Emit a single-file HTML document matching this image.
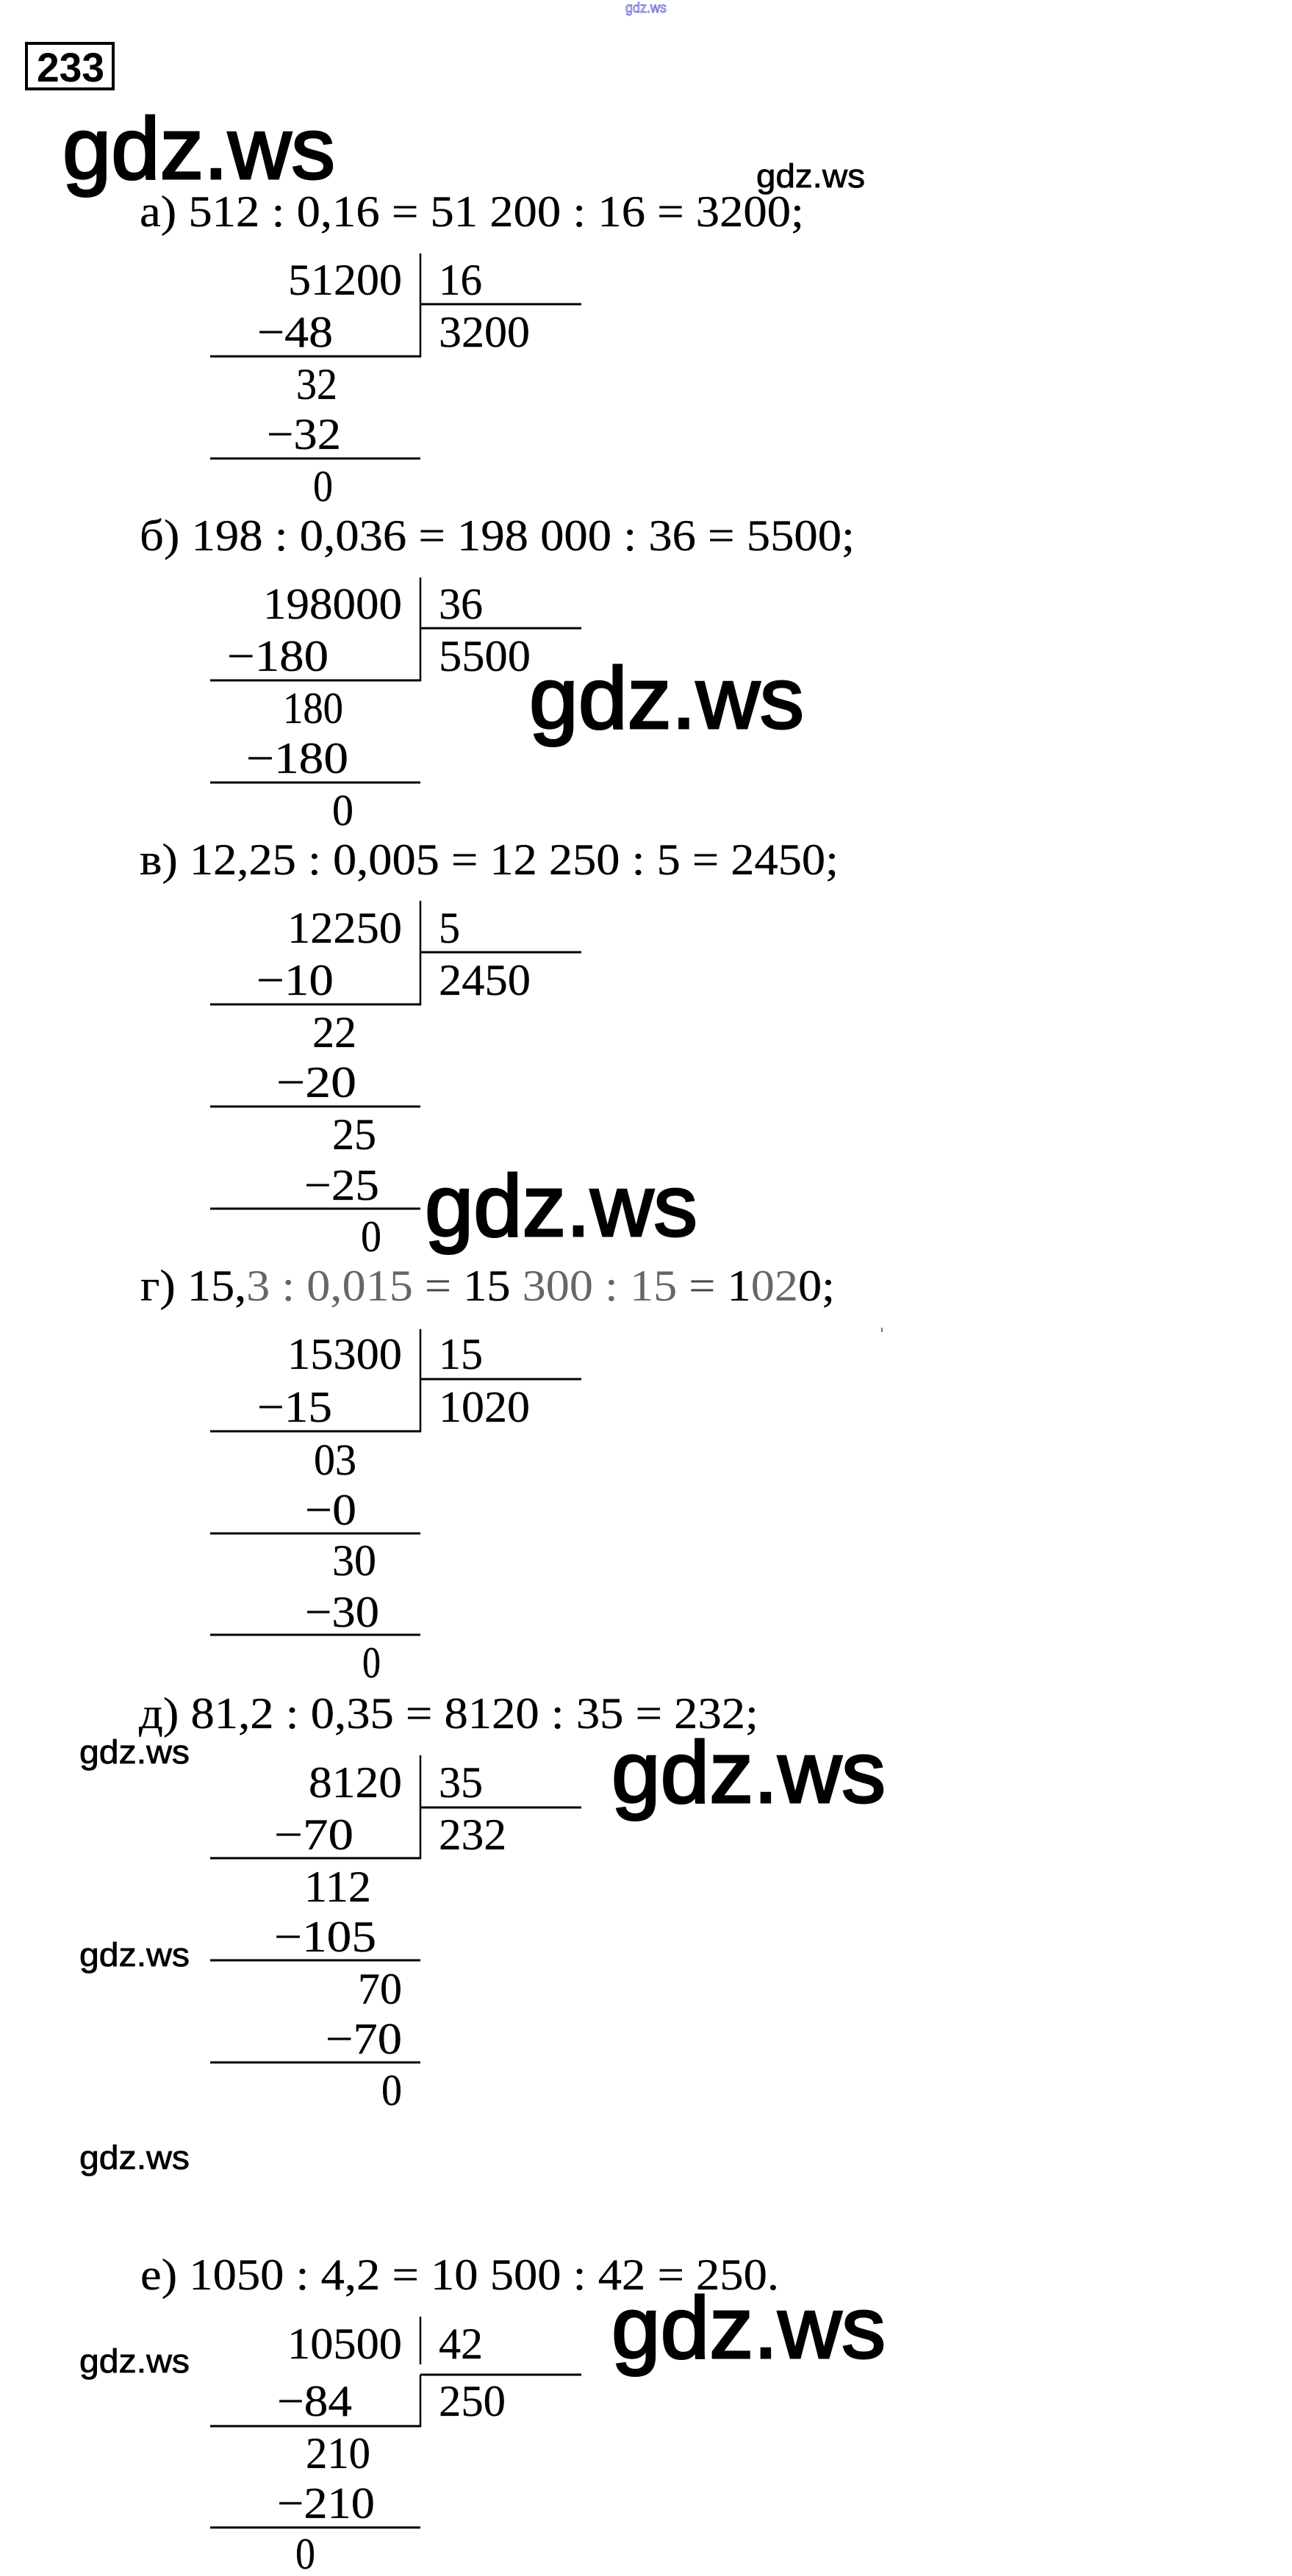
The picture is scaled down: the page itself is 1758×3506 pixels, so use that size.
<!DOCTYPE html>
<html lang="ru"><head><meta charset="utf-8"><title>233</title>
<style>
html,body{margin:0;padding:0;background:#fff}
svg{display:block}
.n{font-family:"Liberation Serif",serif;font-size:60px;fill:#000;stroke:#000;stroke-width:.3px;transform:translateY(2px)}
.g{font-family:"Liberation Sans",sans-serif;font-size:119px;fill:#000;stroke:#000;stroke-width:3px}
.s{font-family:"Liberation Sans",sans-serif;font-size:45px;fill:#000;stroke:#000;stroke-width:.8px}
.l{stroke:#000;stroke-width:3;fill:none}
.v{stroke:#000;stroke-width:2.5;fill:none}
</style></head><body>
<svg xmlns="http://www.w3.org/2000/svg" width="1758" height="3506" viewBox="0 0 1758 3506">
<rect width="1758" height="3506" fill="#fff"/>
<text x="851" y="17" font-family="Liberation Sans,sans-serif" font-size="19" fill="#fff" stroke="#3535c8" stroke-width=".7" textLength="56" lengthAdjust="spacingAndGlyphs">gdz.ws</text>
<rect x="36" y="59" width="118" height="62" fill="none" stroke="#000" stroke-width="4"/>
<text x="50" y="111" font-family="Liberation Sans,sans-serif" font-weight="700" font-size="56" textLength="92" lengthAdjust="spacingAndGlyphs">233</text>

<text class="g" x="85" y="243" textLength="371" lengthAdjust="spacingAndGlyphs">gdz.ws</text>
<text class="s" x="1029" y="255" textLength="148" lengthAdjust="spacingAndGlyphs">gdz.ws</text>
<text class="g" x="720" y="991" textLength="374" lengthAdjust="spacingAndGlyphs">gdz.ws</text>
<text class="g" x="578" y="1682" textLength="371" lengthAdjust="spacingAndGlyphs">gdz.ws</text>
<text class="g" x="832" y="2453" textLength="373" lengthAdjust="spacingAndGlyphs">gdz.ws</text>
<text class="g" x="832" y="3209" textLength="373" lengthAdjust="spacingAndGlyphs">gdz.ws</text>
<text class="s" x="108" y="2400" textLength="150" lengthAdjust="spacingAndGlyphs">gdz.ws</text>
<text class="s" x="108" y="2676" textLength="150" lengthAdjust="spacingAndGlyphs">gdz.ws</text>
<text class="s" x="108" y="2952" textLength="150" lengthAdjust="spacingAndGlyphs">gdz.ws</text>
<text class="s" x="108" y="3229" textLength="150" lengthAdjust="spacingAndGlyphs">gdz.ws</text>
<rect x="1199" y="1807" width="2" height="6" fill="#777"/>

<!-- а -->
<text class="n" x="190" y="306" textLength="904" lengthAdjust="spacingAndGlyphs">а) 512 : 0,16 = 51 200 : 16 = 3200;</text>
<text class="n" x="392" y="399" textLength="155" lengthAdjust="spacingAndGlyphs">51200</text>
<text class="n" x="597" y="399" textLength="59" lengthAdjust="spacingAndGlyphs">16</text>
<text class="n" x="597" y="470" textLength="124" lengthAdjust="spacingAndGlyphs">3200</text>
<text class="n" x="350" y="470" textLength="103" lengthAdjust="spacingAndGlyphs">−48</text>
<text class="n" x="403" y="541" textLength="56" lengthAdjust="spacingAndGlyphs">32</text>
<text class="n" x="363" y="609" textLength="101" lengthAdjust="spacingAndGlyphs">−32</text>
<text class="n" x="426" y="680" textLength="27" lengthAdjust="spacingAndGlyphs">0</text>
<path class="v" d="M572 345V486"/><path class="l" d="M572 414H791M286 485H573M286 624H572"/>

<!-- б -->
<text class="n" x="190" y="747" textLength="973" lengthAdjust="spacingAndGlyphs">б) 198 : 0,036 = 198 000 : 36 = 5500;</text>
<text class="n" x="358" y="840" textLength="189" lengthAdjust="spacingAndGlyphs">198000</text>
<text class="n" x="597" y="840" textLength="60" lengthAdjust="spacingAndGlyphs">36</text>
<text class="n" x="597" y="911" textLength="125" lengthAdjust="spacingAndGlyphs">5500</text>
<text class="n" x="309" y="911" textLength="138" lengthAdjust="spacingAndGlyphs">−180</text>
<text class="n" x="385" y="982" textLength="82" lengthAdjust="spacingAndGlyphs">180</text>
<text class="n" x="335" y="1050" textLength="139" lengthAdjust="spacingAndGlyphs">−180</text>
<text class="n" x="452" y="1121" textLength="29" lengthAdjust="spacingAndGlyphs">0</text>
<path class="v" d="M572 786V927"/><path class="l" d="M572 855H791M286 926H573M286 1065H572"/>

<!-- в -->
<text class="n" x="190" y="1188" textLength="951" lengthAdjust="spacingAndGlyphs">в) 12,25 : 0,005 = 12 250 : 5 = 2450;</text>
<text class="n" x="391" y="1281" textLength="156" lengthAdjust="spacingAndGlyphs">12250</text>
<text class="n" x="597" y="1281" textLength="29" lengthAdjust="spacingAndGlyphs">5</text>
<text class="n" x="597" y="1352" textLength="125" lengthAdjust="spacingAndGlyphs">2450</text>
<text class="n" x="349" y="1352" textLength="105" lengthAdjust="spacingAndGlyphs">−10</text>
<text class="n" x="425" y="1423" textLength="60" lengthAdjust="spacingAndGlyphs">22</text>
<text class="n" x="376" y="1491" textLength="109" lengthAdjust="spacingAndGlyphs">−20</text>
<text class="n" x="452" y="1562" textLength="60" lengthAdjust="spacingAndGlyphs">25</text>
<text class="n" x="414" y="1631" textLength="102" lengthAdjust="spacingAndGlyphs">−25</text>
<text class="n" x="491" y="1701" textLength="28" lengthAdjust="spacingAndGlyphs">0</text>
<path class="v" d="M572 1226V1368"/><path class="l" d="M572 1296H791M286 1367H573M286 1506H572M286 1645H572"/>

<!-- г -->
<text class="n" x="191" y="1768" textLength="945" lengthAdjust="spacingAndGlyphs">г) 15,<tspan fill="#666" stroke="none">3 : 0,015</tspan> <tspan fill="#444" stroke="none">=</tspan> 15 <tspan fill="#666" stroke="none">300 : 15</tspan> <tspan fill="#444" stroke="none">=</tspan> 1<tspan fill="#666" stroke="none">02</tspan>0;</text>
<text class="n" x="391" y="1861" textLength="156" lengthAdjust="spacingAndGlyphs">15300</text>
<text class="n" x="597" y="1861" textLength="60" lengthAdjust="spacingAndGlyphs">15</text>
<text class="n" x="597" y="1933" textLength="124" lengthAdjust="spacingAndGlyphs">1020</text>
<text class="n" x="350" y="1933" textLength="102" lengthAdjust="spacingAndGlyphs">−15</text>
<text class="n" x="427" y="2005" textLength="58" lengthAdjust="spacingAndGlyphs">03</text>
<text class="n" x="415" y="2073" textLength="70" lengthAdjust="spacingAndGlyphs">−0</text>
<text class="n" x="452" y="2142" textLength="60" lengthAdjust="spacingAndGlyphs">30</text>
<text class="n" x="415" y="2212" textLength="101" lengthAdjust="spacingAndGlyphs">−30</text>
<text class="n" x="493" y="2281" textLength="25" lengthAdjust="spacingAndGlyphs">0</text>
<path class="v" d="M572 1809V1949"/><path class="l" d="M572 1877H791M286 1948H573M286 2087H572M286 2225H572"/>

<!-- д -->
<text class="n" x="189" y="2350" textLength="843" lengthAdjust="spacingAndGlyphs">д) 81,2 : 0,35 = 8120 : 35 = 232;</text>
<text class="n" x="420" y="2444" textLength="127" lengthAdjust="spacingAndGlyphs">8120</text>
<text class="n" x="597" y="2444" textLength="60" lengthAdjust="spacingAndGlyphs">35</text>
<text class="n" x="597" y="2515" textLength="92" lengthAdjust="spacingAndGlyphs">232</text>
<text class="n" x="373" y="2515" textLength="108" lengthAdjust="spacingAndGlyphs">−70</text>
<text class="n" x="414" y="2586" textLength="91" lengthAdjust="spacingAndGlyphs">112</text>
<text class="n" x="373" y="2654" textLength="139" lengthAdjust="spacingAndGlyphs">−105</text>
<text class="n" x="487" y="2725" textLength="60" lengthAdjust="spacingAndGlyphs">70</text>
<text class="n" x="443" y="2793" textLength="104" lengthAdjust="spacingAndGlyphs">−70</text>
<text class="n" x="519" y="2863" textLength="28" lengthAdjust="spacingAndGlyphs">0</text>
<path class="v" d="M572 2389V2530"/><path class="l" d="M572 2460H791M286 2529H573M286 2668H572M286 2807H572"/>

<!-- е -->
<text class="n" x="191" y="3114" textLength="869" lengthAdjust="spacingAndGlyphs">е) 1050 : 4,2 = 10 500 : 42 = 250.</text>
<text class="n" x="391" y="3208" textLength="156" lengthAdjust="spacingAndGlyphs">10500</text>
<text class="n" x="597" y="3208" textLength="60" lengthAdjust="spacingAndGlyphs">42</text>
<text class="n" x="597" y="3286" textLength="91" lengthAdjust="spacingAndGlyphs">250</text>
<text class="n" x="377" y="3286" textLength="102" lengthAdjust="spacingAndGlyphs">−84</text>
<text class="n" x="416" y="3357" textLength="88" lengthAdjust="spacingAndGlyphs">210</text>
<text class="n" x="377" y="3425" textLength="133" lengthAdjust="spacingAndGlyphs">−210</text>
<text class="n" x="402" y="3494" textLength="27" lengthAdjust="spacingAndGlyphs">0</text>
<path class="v" d="M572 3153V3218M572 3232V3303"/><path class="l" d="M572 3232H791M286 3302H573M286 3440H572"/>
</svg>
</body></html>
